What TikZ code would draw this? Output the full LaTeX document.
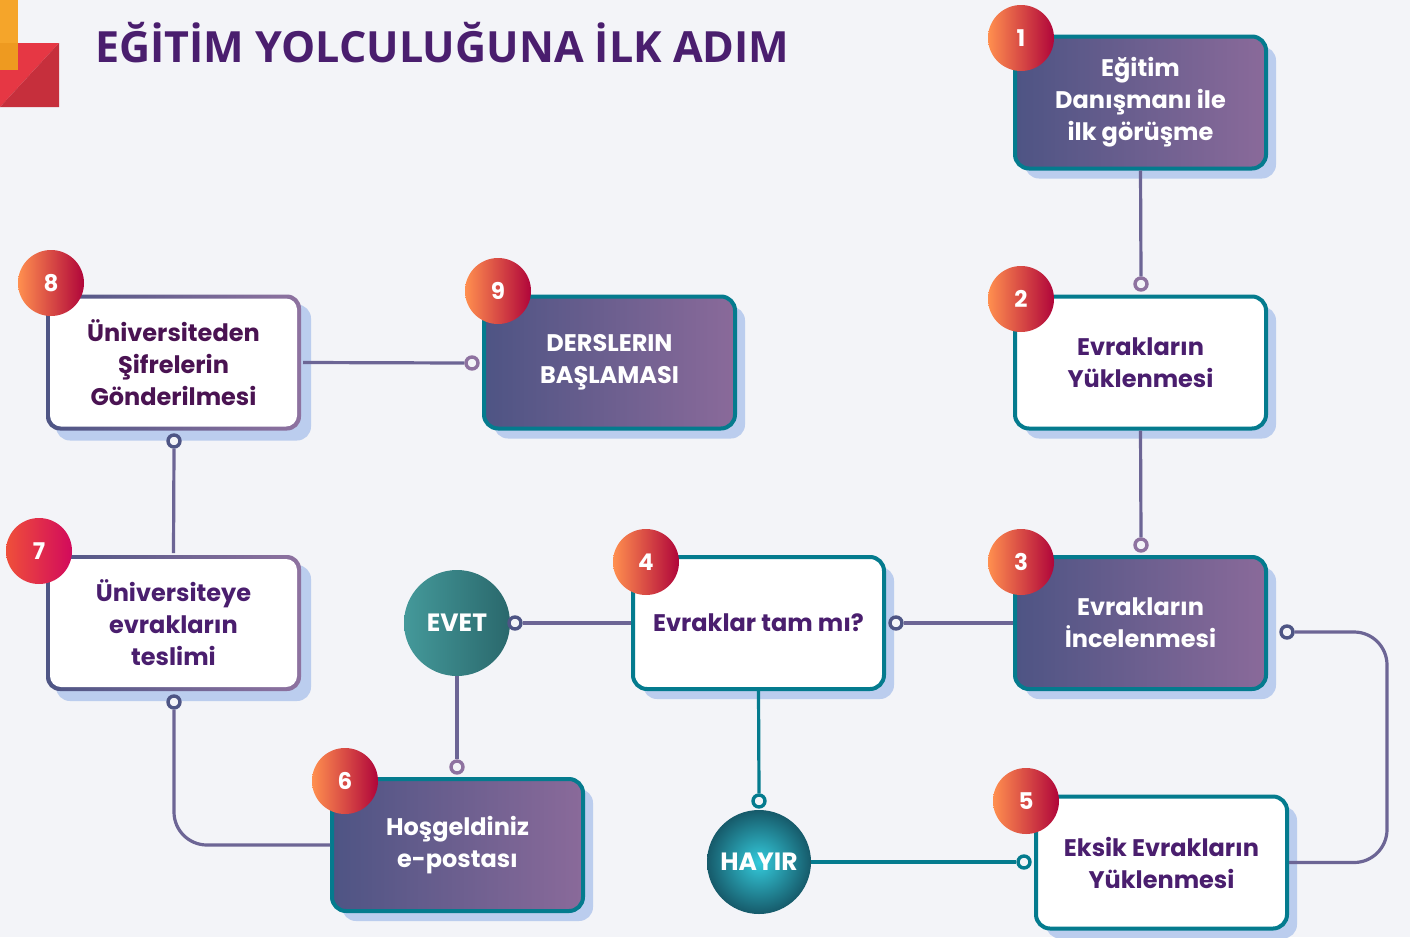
\documentclass[tikz,border=0pt]{standalone}
\usepackage{fontspec}
\setmainfont{Poppins}
\newfontfamily\ttlfont{Open Sans}
\usetikzlibrary{shadows,calc}
\definecolor{cBg}{HTML}{F3F4F8}
\definecolor{cTeal}{HTML}{047B8E}
\definecolor{cDarkA}{HTML}{4E5484}
\definecolor{cDarkB}{HTML}{8A6A9A}
\definecolor{cShadow}{HTML}{BBCDEE}
\definecolor{cText}{HTML}{4A1E6E}
\definecolor{cTextB}{HTML}{4A1352}
\definecolor{cLineA}{HTML}{4E5585}
\definecolor{cLineB}{HTML}{8E72A0}
\definecolor{cLine}{HTML}{6C6595}
\definecolor{cBadgeA}{HTML}{FF8F4F}
\definecolor{cBadgeB}{HTML}{B0053A}
\definecolor{cBadgeC}{HTML}{EF4F3A}
\definecolor{cBadgeD}{HTML}{D20A5C}
\definecolor{cTitle}{HTML}{4A1E6E}
\definecolor{cOrA}{HTML}{F5A52A}
\definecolor{cOrB}{HTML}{EE9A20}
\definecolor{cRedA}{HTML}{E63744}
\definecolor{cRedB}{HTML}{C62F3C}
\definecolor{cEvA}{HTML}{44999A}
\definecolor{cEvB}{HTML}{2A686C}
\definecolor{cHyA}{HTML}{34CADB}
\definecolor{cHyB}{HTML}{165A6A}
\newcommand\bxfont{\fontsize{24}{32}\selectfont\bfseries}
\begin{document}
\begin{tikzpicture}[x=1pt,y=-1pt,
  box/.style={rounded corners=14pt, minimum width=251pt, minimum height=132pt,
    line width=4pt, align=center, inner sep=0pt, font=\bxfont,
    general shadow={fill=cShadow, shadow xshift=10pt, shadow yshift=-10pt}},
  darkbox/.style={box, draw=cTeal, left color=cDarkA, right color=cDarkB, text=white},
  whitebox/.style={box, draw=cTeal, fill=white, text=cText},
  purplebox/.style={box, minimum width=255pt, minimum height=136pt,
    left color=cLineA, right color=cLineB, text=cText,
    path picture={\fill[white, rounded corners=11pt]
      ($(path picture bounding box.south west)+(4pt,4pt)$) rectangle
      ($(path picture bounding box.north east)-(4pt,4pt)$);}},
  badge/.style={circle, minimum size=66pt, inner sep=0pt, left color=cBadgeA,
    right color=cBadgeB, text=white, font=\fontsize{23}{23}\selectfont\bfseries},
  badgeb/.style={badge, left color=cBadgeC, right color=cBadgeD},
  dotp/.style={circle, minimum size=12pt, inner sep=0pt, line width=3.4pt, draw=#1, fill=cBg},
  conn/.style={line width=3.2pt, draw=#1},
  conn/.default=cLine
]
\useasboundingbox (0,0) rectangle (1410,937);
\fill[cBg] (0,0) rectangle (1410,937);
% logo
\fill[cRedA] (0,43) -- (59,43) -- (0,107) -- cycle;
\fill[cRedB] (59,43) -- (59,107) -- (0,107) -- cycle;
\fill[cOrA] (0,0) rectangle (18,43);
\fill[cOrB] (0,43) rectangle (18,70);
% title
\node[anchor=base west, text=cTitle, inner sep=0pt,
  font=\ttlfont\bfseries\fontsize{43}{43}\selectfont] (title) at (95,62)
  {EĞİTİM YOLCULUĞUNA İLK ADIM};
% boxes
\node[darkbox] (b1) at (1140.5,102.5) {Eğitim\\Danışmanı ile\\ilk görüşme};
\node[whitebox] (b2) at (1140.5,362.5) {Evrakların\\Yüklenmesi};
\node[darkbox] (b3) at (1140.5,623) {Evrakların\\İncelenmesi};
\node[whitebox] (b4) at (758.5,623) {Evraklar tam mı?};
\node[whitebox] (b5) at (1161.5,862.5) {Eksik Evrakların\\Yüklenmesi};
\node[darkbox] (b6) at (457.5,845) {Hoşgeldiniz\\e-postası};
\node[purplebox] (b7) at (173.5,623) {Üniversiteye\\evrakların\\teslimi};
\node[purplebox, text=cTextB] (b8) at (173.5,362.5) {Üniversiteden\\Şifrelerin\\Gönderilmesi};
\node[darkbox] (b9) at (609.5,362.5) {DERSLERIN\\BAŞLAMASI};
% decision circles
\node[circle, minimum size=106pt, inner sep=0pt, left color=cEvA, right color=cEvB,
  text=white, font=\fontsize{25}{25}\selectfont\bfseries] (evet) at (457,623) {EVET};
\node[circle, minimum size=104pt, inner sep=0pt, inner color=cHyA, outer color=cHyB,
  text=white, font=\fontsize{25}{25}\selectfont\bfseries] (hayir) at (759,862) {HAYIR};
% dots
\node[dotp=cLineB] (d12) at (1141,284) {};
\node[dotp=cLineB] (d23) at (1141,545) {};
\node[dotp=cLineA] (d34) at (896,623) {};
\node[dotp=cLineA] (dE) at (515,623) {};
\node[dotp=cLineB] (d6) at (457,767) {};
\node[dotp=cLineA] (d67) at (174,702) {};
\node[dotp=cLineA] (d78) at (174,441) {};
\node[dotp=cLineB] (d89) at (472,363) {};
\node[dotp=cLineA] (d35) at (1287,632) {};
\node[dotp=cTeal] (dH) at (759,801) {};
\node[dotp=cTeal] (d5) at (1024,862) {};
% connectors
\coordinate (k1) at (1387,632);
\coordinate (k2) at (174,845);
\draw[conn] (b1.south) -- (d12.north);
\draw[conn] (b2.south) -- (d23.north);
\draw[conn] (b3.west) -- (d34.east);
\draw[conn] (b4.west) -- (dE.east);
\draw[conn] (evet.south) -- (d6.north);
\draw[conn, rounded corners=33pt] (b6.west) -- (k2) -- (d67.south);
\draw[conn] (b7.north) -- (d78.south);
\draw[conn] (b8.east) -- (d89.west);
\draw[conn, rounded corners=33pt] (d35.east) -- (k1) -- (k1 |- b5.east) -- (b5.east);
\draw[conn=cTeal] (b4.south) -- (dH.north);
\draw[conn=cTeal] (hayir.east) -- (d5.west);
% badges
\node[badge] (n1) at (1021,38) {1};
\node[badge] (n2) at (1021,299) {2};
\node[badge] (n3) at (1021,562) {3};
\node[badge] (n4) at (646,562) {4};
\node[badge] (n5) at (1026,801) {5};
\node[badge] (n6) at (345,781) {6};
\node[badgeb] (n7) at (39,551) {7};
\node[badge] (n8) at (51,283) {8};
\node[badge] (n9) at (498,291) {9};
\end{tikzpicture}
\end{document}
